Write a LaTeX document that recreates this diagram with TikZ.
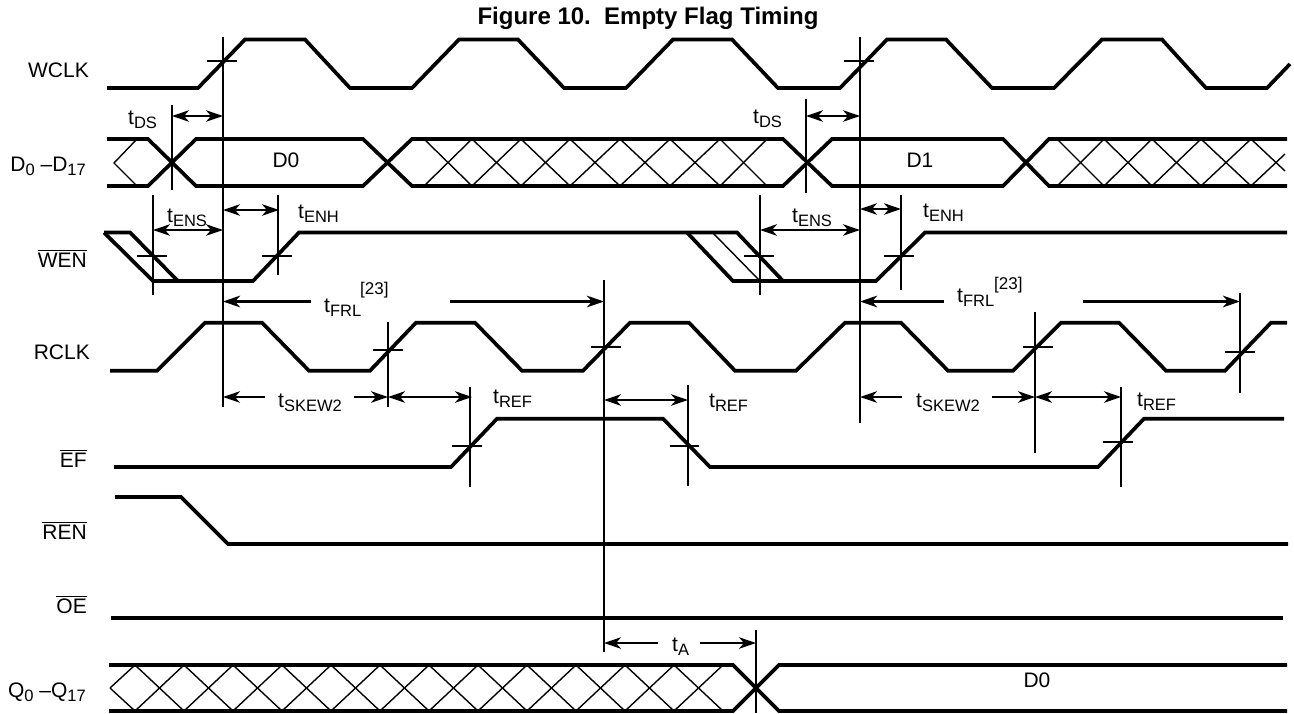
\documentclass[tikz,border=0pt]{standalone}
\usepackage{fontspec}
\setmainfont{Liberation Sans}
\usetikzlibrary{arrows.meta}
\newcommand{\tsub}[1]{t\raisebox{-4pt}{\fontsize{16.5}{16.5}\selectfont #1}}
\newcommand{\dsub}[1]{\raisebox{-4pt}{\fontsize{16.5}{16.5}\selectfont #1}}
\newcommand{\barred}[1]{\vbox{\hrule height 1pt \kern 1.8pt \hbox{#1}}}
\tikzset{
  sigline/.style={line width=3.7pt},
  guide/.style={line width=1.8pt},
  hatch/.style={line width=1.4pt},
  dimarrow/.style={line width=2pt, >={Stealth[length=17pt,width=11.5pt,inset=5pt]}},
  frlarrow/.style={line width=3pt, >={Stealth[length=17pt,width=11.5pt,inset=5pt]}},
  lbl/.style={inner sep=0pt, font=\fontsize{21}{24}\selectfont, anchor=base west},
  sig/.style={inner sep=0pt, font=\fontsize{21}{24}\selectfont, anchor=base east},
  sup/.style={inner sep=0pt, font=\fontsize{17}{20}\selectfont, anchor=base west}
}
\begin{document}
\begin{tikzpicture}[x=1pt,y=-1pt]
\useasboundingbox (0,0) rectangle (1294,713);
\node [inner sep=0pt, anchor=base, font=\fontsize{24}{28}\selectfont\bfseries] (title) at (648,24) {Figure 10.\ \ Empty Flag Timing};
% signal names
\node [sig] (wclk) at (89,77) {WCLK};
\node [sig] (dbus) at (86,171) {D\dsub{0} --D\dsub{17}};
\node [sig] (wen) at (87,267) {\barred{WEN}};
\node [sig] (rclk) at (90,359) {RCLK};
\node [sig] (ef) at (87,467) {\barred{EF}};
\node [sig] (ren) at (87,539) {\barred{REN}};
\node [sig] (oe) at (87,613) {\barred{OE}};
\node [sig] (qbus) at (86,697) {Q\dsub{0} --Q\dsub{17}};
% WCLK
\draw [sigline] (107,88) -- (198,88) -- (245,39.5) -- (305,39.5) -- (350,88) -- (412,88) -- (459,39.5) -- (518,39.5) -- (564,88) -- (626,88) -- (673,39.5) -- (732,39.5) -- (778,88) -- (840,88) -- (887,39.5) -- (946,39.5) -- (992,88) -- (1054,88) -- (1102,39.5) -- (1162,39.5) -- (1206,88) -- (1267,88) -- (1290,64);
% data in
\draw [sigline] (107,139) -- (148,139) -- (196,186) -- (363,186) -- (412,139) -- (783,139) -- (832,186) -- (1003,186) -- (1049,139) -- (1287,139);
\draw [sigline] (107,186) -- (148,186) -- (196,139) -- (363,139) -- (412,186) -- (783,186) -- (832,139) -- (1003,139) -- (1049,186) -- (1287,186);
\draw [hatch] (137,139) -- (114,163) -- (137,186);
\draw [hatch] (424,139) -- (472,186) -- (521,139) -- (570,186) -- (620,139) -- (670,186) -- (720,139) -- (767,186);
\draw [hatch] (424,186) -- (472,139) -- (521,186) -- (570,139) -- (620,186) -- (670,139) -- (720,186) -- (767,139);
\draw [hatch] (1057,139) -- (1104,186) -- (1152,139) -- (1201,186) -- (1251,139) -- (1285,171);
\draw [hatch] (1057,186) -- (1104,139) -- (1152,186) -- (1201,139) -- (1251,186) -- (1285,154);
\node [lbl, anchor=base] (dzero) at (286,167) {D0};
\node [lbl, anchor=base] (done) at (920,167) {D1};
% WEN
\draw [sigline] (104,232.5) -- (130,232.5) -- (178,281);
\draw [sigline] (104,232.5) -- (153,281) -- (253,281) -- (299,232.5) -- (737,232.5) -- (783,281);
\draw [sigline] (687,232.5) -- (733,281) -- (876,281) -- (925,232.5) -- (1287,232.5);
\draw [hatch] (713,233) -- (759,280);
% RCLK
\draw [sigline] (110,370.7) -- (157,370.7) -- (205,322.7) -- (262,322.7) -- (309,370.7) -- (370,370.7) -- (416,322.7) -- (475,322.7) -- (522,370.7) -- (583,370.7) -- (630,322.7) -- (689,322.7) -- (735,370.7) -- (796,370.7) -- (845,322.7) -- (901,322.7) -- (948,370.7) -- (1013,370.7) -- (1061,322.7) -- (1119,322.7) -- (1166,370.7) -- (1225,370.7) -- (1271,322.7) -- (1287,322.7);
% EF, REN, OE
\draw [sigline] (114,467) -- (451,467) -- (497,418.7) -- (663,418.7) -- (710,467) -- (1098,467) -- (1144,418.7) -- (1284,418.7);
\draw [sigline] (115,497) -- (181,497) -- (228,544) -- (1288,544);
\draw [sigline] (111,618) -- (1283,618);
% data out
\draw [sigline] (109,665) -- (733,665) -- (779,711) -- (1287,711);
\draw [sigline] (109,711) -- (733,711) -- (779,665) -- (1287,665);
\draw [hatch] (110,688) -- (135,665) -- (184,711) -- (233,665) -- (282,711) -- (331,665) -- (380,711) -- (429,665) -- (478,711) -- (527,665) -- (576,711) -- (625,665) -- (674,711) -- (723,665);
\draw [hatch] (110,688) -- (135,711) -- (184,665) -- (233,711) -- (282,665) -- (331,711) -- (380,665) -- (429,711) -- (478,665) -- (527,711) -- (576,665) -- (625,711) -- (674,665) -- (723,711);
\node [lbl, anchor=base] (dzerob) at (1037,687) {D0};
% guide lines and crossing marks
\draw [guide] (223,37) -- (223,407);
\draw [guide] (207,61) -- (237,61);
\draw [guide] (860,37) -- (860,423);
\draw [guide] (844,61) -- (874,61);
\draw [guide] (172,105) -- (172,190);
\draw [guide] (806,99) -- (806,193);
\draw [guide] (153,195) -- (153,295);
\draw [guide] (137,256) -- (167,256);
\draw [guide] (278,195) -- (278,275);
\draw [guide] (262,256) -- (292,256);
\draw [guide] (760,195) -- (760,295);
\draw [guide] (744,256) -- (774,256);
\draw [guide] (901,195) -- (901,290);
\draw [guide] (884,256) -- (914,256);
\draw [guide] (388,322) -- (388,407);
\draw [guide] (373,350) -- (403,350);
\draw [guide] (604,280) -- (604,652);
\draw [guide] (591,347) -- (621,347);
\draw [guide] (1035,312) -- (1035,453);
\draw [guide] (1023,347) -- (1053,347);
\draw [guide] (1240,293) -- (1240,393);
\draw [guide] (1225,352) -- (1255,352);
\draw [guide] (470,387) -- (470,487);
\draw [guide] (452,445.7) -- (482,445.7);
\draw [guide] (688,385) -- (688,486);
\draw [guide] (670,445.7) -- (699,445.7);
\draw [guide] (1121,387) -- (1121,487);
\draw [guide] (1103,442) -- (1133,442);
\draw [guide] (756,630) -- (756,713);
% timing labels
\node [lbl] (dsa) at (128,124) {\tsub{DS}};
\node [lbl] (dsb) at (753,123) {\tsub{DS}};
\node [lbl] (ensa) at (167,222) {\tsub{ENS}};
\node [lbl] (enha) at (298,218) {\tsub{ENH}};
\node [lbl] (ensb) at (792,222) {\tsub{ENS}};
\node [lbl] (enhb) at (923,217) {\tsub{ENH}};
\node [lbl] (frla) at (324,312) {\tsub{FRL}};
\node [sup] (refa) at (360,294) {[23]};
\node [lbl] (frlb) at (957,302) {\tsub{FRL}};
\node [sup] (refb) at (994,289) {[23]};
\node [lbl] (skewa) at (278,407) {\tsub{SKEW2}};
\node [lbl] (skewb) at (916,407) {\tsub{SKEW2}};
\node [lbl] (trefa) at (493,403) {\tsub{REF}};
\node [lbl] (trefb) at (709,407) {\tsub{REF}};
\node [lbl] (trefc) at (1137,406) {\tsub{REF}};
\node [lbl] (ta) at (672,651) {\tsub{A}};
% arrow ends
\coordinate (dsal) at (172,116);
\coordinate (dsar) at (223,116);
\coordinate (dsbl) at (806,116);
\coordinate (dsbr) at (860,116);
\coordinate (ensal) at (153,230);
\coordinate (ensar) at (223,230);
\coordinate (enhal) at (223,210);
\coordinate (enhar) at (279,210);
\coordinate (ensbl) at (760,230);
\coordinate (ensbr) at (860,230);
\coordinate (enhbl) at (860,209);
\coordinate (enhbr) at (901,209);
\coordinate (frlal) at (223,301.5);
\coordinate (frlag) at (311,301.5);
\coordinate (frlah) at (450,301.5);
\coordinate (frlar) at (604,301.5);
\coordinate (frlbl) at (860,301.5);
\coordinate (frlbg) at (944,301.5);
\coordinate (frlbh) at (1083,301.5);
\coordinate (frlbr) at (1240,301.5);
\coordinate (skal) at (223,397);
\coordinate (skag) at (265,397);
\coordinate (skah) at (354,397);
\coordinate (skar) at (388,397);
\coordinate (rfar) at (472,397);
\coordinate (rfbl) at (604,400);
\coordinate (rfbr) at (688,400);
\coordinate (skbl) at (860,397);
\coordinate (skbg) at (902,397);
\coordinate (skbh) at (992,397);
\coordinate (skbr) at (1035,397);
\coordinate (rfcr) at (1121,397);
\coordinate (tal) at (604,643);
\coordinate (tag) at (658,643);
\coordinate (tah) at (700,643);
\coordinate (tar) at (756,643);
% arrows
\draw [dimarrow, <->] (dsal) -- (dsar);
\draw [dimarrow, <->] (dsbl) -- (dsbr);
\draw [dimarrow, <->] (ensal) -- (ensar);
\draw [dimarrow, <->] (enhal) -- (enhar);
\draw [dimarrow, <->] (ensbl) -- (ensbr);
\draw [dimarrow, <->] (enhbl) -- (enhbr);
\draw [frlarrow, <-] (frlal) -- (frlag);
\draw [frlarrow, ->] (frlah) -- (frlar);
\draw [frlarrow, <-] (frlbl) -- (frlbg);
\draw [frlarrow, ->] (frlbh) -- (frlbr);
\draw [dimarrow, <-] (skal) -- (skag);
\draw [dimarrow, ->] (skah) -- (skar);
\draw [dimarrow, <->] (skar) -- (rfar);
\draw [dimarrow, <->] (rfbl) -- (rfbr);
\draw [dimarrow, <-] (skbl) -- (skbg);
\draw [dimarrow, ->] (skbh) -- (skbr);
\draw [dimarrow, <->] (skbr) -- (rfcr);
\draw [dimarrow, <-] (tal) -- (tag);
\draw [dimarrow, ->] (tah) -- (tar);
\end{tikzpicture}
\end{document}
